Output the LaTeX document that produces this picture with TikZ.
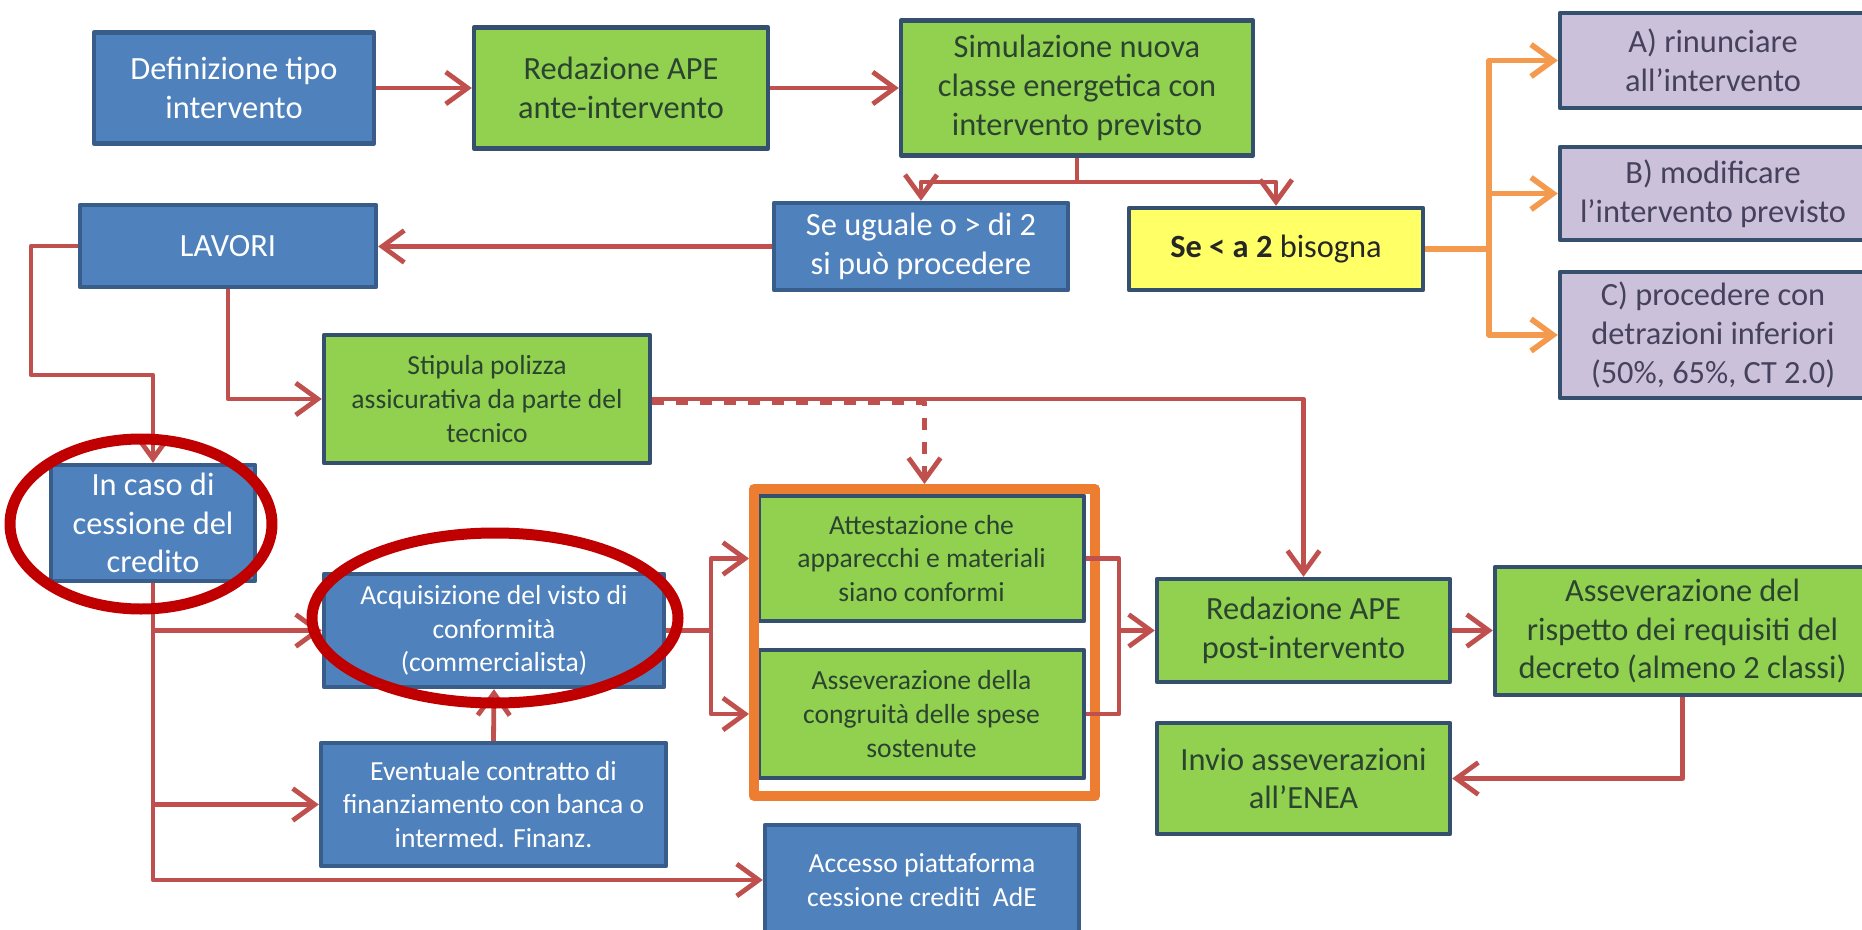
\documentclass[tikz,border=0pt]{standalone}
\usepackage{fontspec}
\setmainfont{Carlito}
\usetikzlibrary{arrows.meta}
\definecolor{boxblue}{HTML}{4F81BD}
\definecolor{boxgreen}{HTML}{92D050}
\definecolor{boxlila}{HTML}{CCC1DA}
\definecolor{boxyellow}{HTML}{FFFF66}
\definecolor{rimblue}{HTML}{385D8A}
\definecolor{rimslate}{HTML}{34506E}
\definecolor{linered}{HTML}{C0504D}
\definecolor{lineorange}{HTML}{F39A4E}
\definecolor{frameorange}{HTML}{ED7D31}
\definecolor{ringred}{HTML}{C00000}
\definecolor{txtgreen}{HTML}{2A4430}
\definecolor{txtlila}{HTML}{46425E}
\newcommand{\bigtxt}{\fontsize{8.1}{9.7}\selectfont}
\newcommand{\smalltxt}{\fontsize{6.9}{8.4}\selectfont}

\begin{document}
\begin{tikzpicture}[x=0.25pt, y=-0.25pt, line join=round, >={Straight Barb[length=5.5pt,width=8pt]},
	box/.style={draw, line width=1.1pt, align=center, inner sep=0pt, font=\bigtxt},
	bluebox/.style={box, fill=boxblue, draw=rimblue, text=white},
	greenbox/.style={box, fill=boxgreen, draw=rimslate, text=txtgreen},
	lilabox/.style={box, fill=boxlila, draw=rimslate, text=txtlila},
	yellowbox/.style={box, fill=boxyellow, draw=rimslate, text=black!85},
	conn/.style={draw=linered, line width=1.2pt},
	orng/.style={draw=lineorange, line width=1.4pt},
	ring/.style={draw=ringred, line width=2.75pt}]
	\useasboundingbox[fill=white] (0,0) rectangle (1862,930);
	% first row
	\node[bluebox, minimum width=70pt, minimum height=27.75pt] (def) at (234,88) {Definizione tipo\\intervento};
	\node[greenbox, minimum width=73.5pt, minimum height=30.25pt] (apeAnte) at (621,88) {Redazione APE\\ante-intervento};
	\node[greenbox, minimum width=88pt, minimum height=33.75pt] (sim) at (1077,88) {Simulazione nuova\\classe energetica con\\intervento previsto};
	% options
	\node[lilabox, minimum width=76.5pt, minimum height=23.75pt] (optA) at (1713,60.5) {A) rinunciare\\all'intervento};
	\node[lilabox, minimum width=76.5pt, minimum height=23.25pt] (optB) at (1713,193.5) {B) modificare\\l'intervento previsto};
	\node[lilabox, minimum width=76.5pt, minimum height=31.5pt] (optC) at (1713,335) {C) procedere con\\detrazioni inferiori\\(50\%, 65\%, CT 2.0)};
	% second row
	\node[bluebox, minimum width=73.5pt, minimum height=21.75pt] (siOK) at (921,246.5) {Se uguale o > di 2\\si può procedere};
	\node[yellowbox, minimum width=73.5pt, minimum height=20.5pt] (siNo) at (1276,249) {\textbf{Se < a 2} bisogna};
	\node[bluebox, minimum width=74pt, minimum height=20.5pt] (lavori) at (228,246) {LAVORI};
	\node[greenbox, font=\smalltxt, minimum width=81.5pt, minimum height=32pt] (polizza) at (487,399) {Stipula polizza\\assicurativa da parte del\\tecnico};
	% credit branch
	\node[bluebox, minimum width=51pt, minimum height=29pt] (cessione) at (153,523) {In caso di\\cessione del\\credito};
	\node[bluebox, font=\smalltxt, minimum width=85pt, minimum height=28.25pt] (visto) at (494,630.5) {Acquisizione del visto di\\conformità\\(commercialista)};
	\node[bluebox, font=\smalltxt, minimum width=86.25pt, minimum height=30.75pt] (finanz) at (493.5,804.5) {Eventuale contratto di\\finanziamento con banca o\\intermed. Finanz.};
	\node[bluebox, font=\smalltxt, minimum width=78.5pt, minimum height=27.5pt] (accesso) at (922,880) {Accesso piattaforma\\cessione crediti~ AdE};
	% checks
	\node[greenbox, font=\smalltxt, minimum width=81.25pt, minimum height=31.25pt] (attest) at (921.5,558.5) {Attestazione che\\apparecchi e materiali\\siano conformi};
	\node[greenbox, font=\smalltxt, minimum width=81.25pt, minimum height=32pt] (congr) at (921.5,714) {Asseverazione della\\congruità delle spese\\sostenute};
	\node[draw=frameorange, line width=2.5pt, minimum width=85.25pt, minimum height=76.75pt] (grp) at (924.5,642.5) {};
	\node[greenbox, minimum width=73.25pt, minimum height=25.75pt] (apePost) at (1303.5,630.5) {Redazione APE\\post-intervento};
	\node[greenbox, minimum width=93.75pt, minimum height=32pt] (rispetto) at (1682.5,631) {Asseverazione del\\rispetto dei requisiti del\\decreto (almeno 2 classi)};
	\node[greenbox, minimum width=73.25pt, minimum height=27.75pt] (invio) at (1303.5,778.5) {Invio asseverazioni\\all'ENEA};
	% connectors
	\coordinate (split) at (1077,182);
	\coordinate (fork) at (1489,249);
	\coordinate (bendL) at (31,375);
	\coordinate (splitV) at (711,630.5);
	\coordinate (joinR) at (1119,630.5);
	\draw[conn,->] (def) -- (apeAnte);
	\draw[conn,->] (apeAnte) -- (sim);
	\draw[conn] (sim.south) -- (split);
	\draw[conn,->] (split) -| (siOK.north);
	\draw[conn,->] (split) -| (siNo.north);
	\draw[conn,->] (siOK.west) -- (siOK.west -| lavori.east);
	\draw[orng] (siNo.east) -- (fork);
	\draw[orng,->] (fork) |- (optA.west);
	\draw[orng,->] (fork) -- (optB.west -| fork) -- (optB.west);
	\draw[orng,->] (fork) |- (optC.west);
	\draw[conn,->] (lavori.west) -| (bendL) -| (cessione.north);
	\draw[conn,->] (lavori.south) |- (polizza.west);
	\draw[conn,->] (polizza.east) -| (apePost.north);
	\draw[conn,dashed,->] ([yshift=-0.8pt]polizza.east) -| (grp.north);
	\draw[conn,->] (cessione.south) |- (accesso.west);
	\draw[conn,->] (cessione.south |- visto.west) -- (visto.west);
	\draw[conn,->] (cessione.south |- finanz.west) -- (finanz.west);
	\draw[conn,->] (finanz.north) -- (visto.south);
	\draw[conn] (visto.east) -- (splitV);
	\draw[conn,->] (splitV) |- (attest.west -| grp.west);
	\draw[conn,->] (splitV) |- (congr.west -| grp.west);
	\draw[conn] (attest.east) -| (joinR) |- (congr.east);
	\draw[conn,->] (joinR) -- (apePost.west);
	\draw[conn,->] (apePost.east) -- (apePost.east -| rispetto.west);
	\draw[conn,->] (rispetto.south) |- (invio.east);
	% red rings
	\draw[ring] (141,524) ellipse [x radius=32.75pt, y radius=21.25pt];
	\draw[ring] (495,618) ellipse [x radius=45.75pt, y radius=21.25pt];
\end{tikzpicture}
\end{document}
